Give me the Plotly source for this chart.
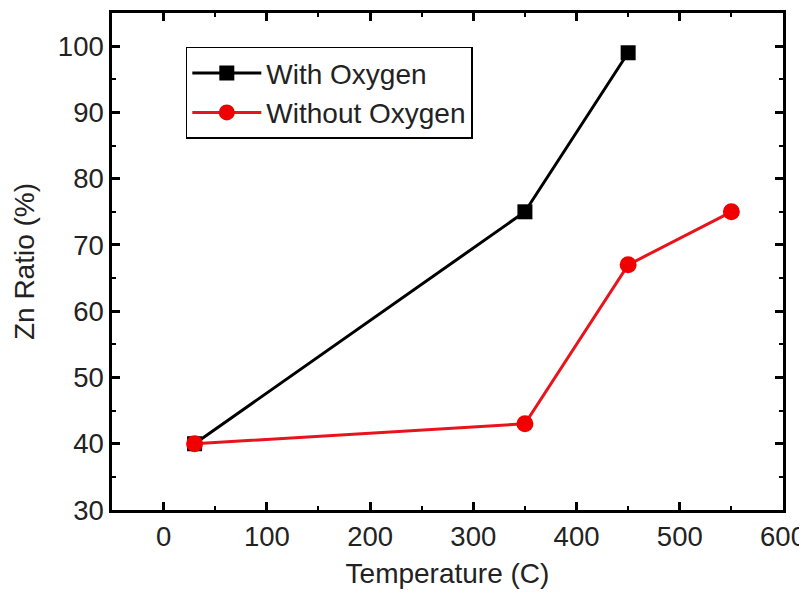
import plotly.graph_objects as go

temp_with = [30, 350, 450]
zn_with = [40, 75, 99]
temp_without = [30, 350, 450, 550]
zn_without = [40, 43, 67, 75]

font = "Arial, Liberation Sans, sans-serif"

fig = go.Figure()
fig.add_trace(go.Scatter(x=temp_with, y=zn_with, mode="lines+markers", name="With Oxygen",
                         line=dict(color="black", width=3),
                         marker=dict(symbol="square", size=15, color="black")))
fig.add_trace(go.Scatter(x=temp_without, y=zn_without, mode="lines+markers", name="Without Oxygen",
                         line=dict(color="#e8141c", width=3),
                         marker=dict(symbol="circle", size=17, color="#f00000")))

axis_common = dict(showline=True, linecolor="black", linewidth=2.5, mirror="ticks",
                   ticks="inside", ticklen=8, tickwidth=2.5, tickcolor="black",
                   showgrid=False, zeroline=False, automargin=False,
                   tickfont=dict(family=font, size=27.5, color="#222"))

fig.update_xaxes(range=[-50, 600], dtick=100, tick0=0,
                 minor=dict(ticks="inside", ticklen=4, tickwidth=2, dtick=50, tick0=0, tickcolor="black"),
                 title=dict(text="Temperature (C)", font=dict(family=font, size=28, color="#222"), standoff=13),
                 **axis_common)
fig.update_yaxes(range=[30, 105], dtick=10, tick0=0,
                 minor=dict(ticks="inside", ticklen=4, tickwidth=2, dtick=5, tick0=0, tickcolor="black"),
                 title=dict(text="Zn Ratio (%)", font=dict(family=font, size=28, color="#222"), standoff=16),
                 **axis_common)

# the page body has an 8px margin, so the figure is offset by 8px in the window
fig.update_layout(
    width=807, height=596,
    margin=dict(l=104, r=32, t=5, b=94),
    plot_bgcolor="white", paper_bgcolor="white",
    showlegend=True,
    legend=dict(x=0.110, y=0.932, xanchor="left", yanchor="top",
                bordercolor="black", borderwidth=1.5, bgcolor="white",
                font=dict(family=font, size=28, color="#222"),
                tracegroupgap=0, itemwidth=69),
)

fig.write_html("out.html")
